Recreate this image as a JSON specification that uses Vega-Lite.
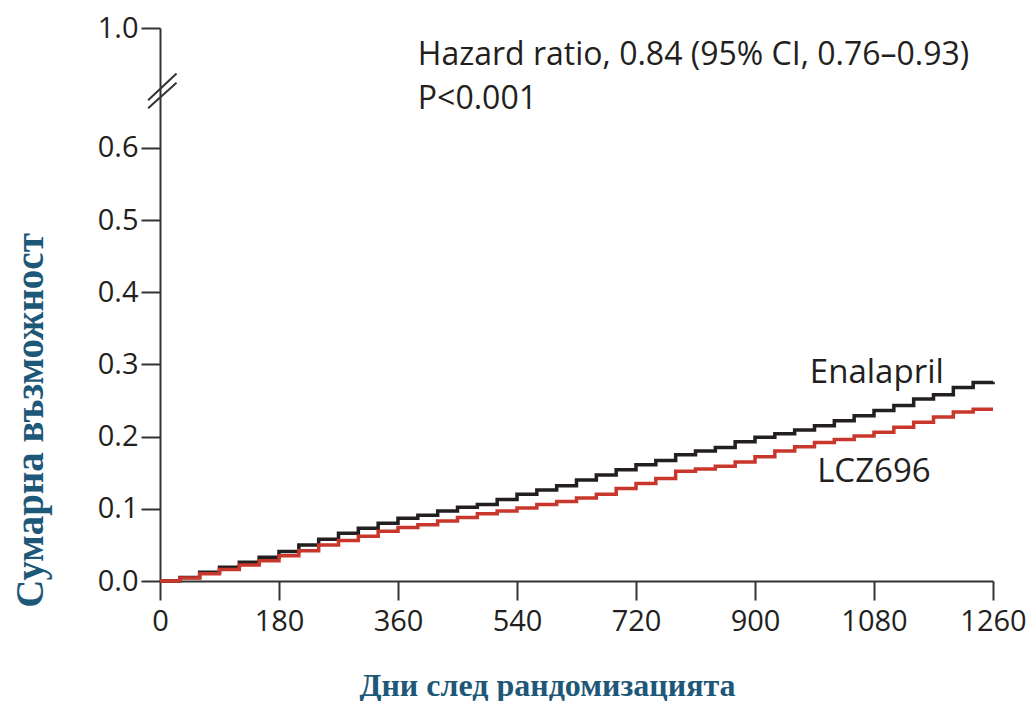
{
  "$schema": "https://vega.github.io/schema/vega-lite/v6.json",
  "autosize": "none",
  "width": 833,
  "height": 553,
  "padding": {"left": 160, "top": 28, "right": 40, "bottom": 120},
  "background": "white",
  "config": {"view": {"stroke": null}},
  "datasets": {
    "curves": [
      {"day": 0, "p": 0, "arm": "Enalapril"},
      {"day": 30, "p": 0.005, "arm": "Enalapril"},
      {"day": 60, "p": 0.012, "arm": "Enalapril"},
      {"day": 90, "p": 0.019, "arm": "Enalapril"},
      {"day": 120, "p": 0.026, "arm": "Enalapril"},
      {"day": 150, "p": 0.033, "arm": "Enalapril"},
      {"day": 180, "p": 0.041, "arm": "Enalapril"},
      {"day": 210, "p": 0.05, "arm": "Enalapril"},
      {"day": 240, "p": 0.058, "arm": "Enalapril"},
      {"day": 270, "p": 0.066, "arm": "Enalapril"},
      {"day": 300, "p": 0.073, "arm": "Enalapril"},
      {"day": 330, "p": 0.08, "arm": "Enalapril"},
      {"day": 360, "p": 0.087, "arm": "Enalapril"},
      {"day": 390, "p": 0.091, "arm": "Enalapril"},
      {"day": 420, "p": 0.097, "arm": "Enalapril"},
      {"day": 450, "p": 0.102, "arm": "Enalapril"},
      {"day": 480, "p": 0.106, "arm": "Enalapril"},
      {"day": 510, "p": 0.113, "arm": "Enalapril"},
      {"day": 540, "p": 0.12, "arm": "Enalapril"},
      {"day": 570, "p": 0.126, "arm": "Enalapril"},
      {"day": 600, "p": 0.132, "arm": "Enalapril"},
      {"day": 630, "p": 0.14, "arm": "Enalapril"},
      {"day": 660, "p": 0.147, "arm": "Enalapril"},
      {"day": 690, "p": 0.154, "arm": "Enalapril"},
      {"day": 720, "p": 0.161, "arm": "Enalapril"},
      {"day": 750, "p": 0.167, "arm": "Enalapril"},
      {"day": 780, "p": 0.175, "arm": "Enalapril"},
      {"day": 810, "p": 0.18, "arm": "Enalapril"},
      {"day": 840, "p": 0.185, "arm": "Enalapril"},
      {"day": 870, "p": 0.193, "arm": "Enalapril"},
      {"day": 900, "p": 0.199, "arm": "Enalapril"},
      {"day": 930, "p": 0.204, "arm": "Enalapril"},
      {"day": 960, "p": 0.209, "arm": "Enalapril"},
      {"day": 990, "p": 0.215, "arm": "Enalapril"},
      {"day": 1020, "p": 0.222, "arm": "Enalapril"},
      {"day": 1050, "p": 0.229, "arm": "Enalapril"},
      {"day": 1080, "p": 0.236, "arm": "Enalapril"},
      {"day": 1110, "p": 0.243, "arm": "Enalapril"},
      {"day": 1140, "p": 0.252, "arm": "Enalapril"},
      {"day": 1170, "p": 0.258, "arm": "Enalapril"},
      {"day": 1200, "p": 0.268, "arm": "Enalapril"},
      {"day": 1230, "p": 0.275, "arm": "Enalapril"},
      {"day": 1260, "p": 0.276, "arm": "Enalapril"},
      {"day": 0, "p": 0, "arm": "LCZ696"},
      {"day": 30, "p": 0.004, "arm": "LCZ696"},
      {"day": 60, "p": 0.01, "arm": "LCZ696"},
      {"day": 90, "p": 0.016, "arm": "LCZ696"},
      {"day": 120, "p": 0.022, "arm": "LCZ696"},
      {"day": 150, "p": 0.028, "arm": "LCZ696"},
      {"day": 180, "p": 0.035, "arm": "LCZ696"},
      {"day": 210, "p": 0.042, "arm": "LCZ696"},
      {"day": 240, "p": 0.05, "arm": "LCZ696"},
      {"day": 270, "p": 0.056, "arm": "LCZ696"},
      {"day": 300, "p": 0.062, "arm": "LCZ696"},
      {"day": 330, "p": 0.069, "arm": "LCZ696"},
      {"day": 360, "p": 0.074, "arm": "LCZ696"},
      {"day": 390, "p": 0.078, "arm": "LCZ696"},
      {"day": 420, "p": 0.083, "arm": "LCZ696"},
      {"day": 450, "p": 0.088, "arm": "LCZ696"},
      {"day": 480, "p": 0.093, "arm": "LCZ696"},
      {"day": 510, "p": 0.097, "arm": "LCZ696"},
      {"day": 540, "p": 0.101, "arm": "LCZ696"},
      {"day": 570, "p": 0.106, "arm": "LCZ696"},
      {"day": 600, "p": 0.11, "arm": "LCZ696"},
      {"day": 630, "p": 0.115, "arm": "LCZ696"},
      {"day": 660, "p": 0.12, "arm": "LCZ696"},
      {"day": 690, "p": 0.128, "arm": "LCZ696"},
      {"day": 720, "p": 0.135, "arm": "LCZ696"},
      {"day": 750, "p": 0.142, "arm": "LCZ696"},
      {"day": 780, "p": 0.152, "arm": "LCZ696"},
      {"day": 810, "p": 0.155, "arm": "LCZ696"},
      {"day": 840, "p": 0.159, "arm": "LCZ696"},
      {"day": 870, "p": 0.165, "arm": "LCZ696"},
      {"day": 900, "p": 0.172, "arm": "LCZ696"},
      {"day": 930, "p": 0.18, "arm": "LCZ696"},
      {"day": 960, "p": 0.186, "arm": "LCZ696"},
      {"day": 990, "p": 0.192, "arm": "LCZ696"},
      {"day": 1020, "p": 0.196, "arm": "LCZ696"},
      {"day": 1050, "p": 0.201, "arm": "LCZ696"},
      {"day": 1080, "p": 0.206, "arm": "LCZ696"},
      {"day": 1110, "p": 0.213, "arm": "LCZ696"},
      {"day": 1140, "p": 0.22, "arm": "LCZ696"},
      {"day": 1170, "p": 0.227, "arm": "LCZ696"},
      {"day": 1200, "p": 0.234, "arm": "LCZ696"},
      {"day": 1230, "p": 0.238, "arm": "LCZ696"},
      {"day": 1260, "p": 0.238, "arm": "LCZ696"}
    ],
    "notes": [
      {"day": 390, "p": 0.729, "label": "Hazard ratio, 0.84 (95% CI, 0.76–0.93)"},
      {"day": 390, "p": 0.668, "label": "P<0.001"}
    ],
    "labels": [
      {"day": 983, "p": 0.288, "label": "Enalapril"},
      {"day": 994, "p": 0.151, "label": "LCZ696"}
    ],
    "brk": [
      {"x1": -18, "x2": 25, "y1": 0.666, "y2": 0.703},
      {"x1": -18, "x2": 25, "y1": 0.655, "y2": 0.69}
    ]
  },
  "layer": [
    {
      "data": {"name": "curves"},
      "mark": {"type": "line", "interpolate": "step-after", "strokeWidth": 3.5},
      "encoding": {
        "x": {
          "field": "day", "type": "quantitative",
          "scale": {"domain": [0, 1260], "nice": false, "zero": false},
          "axis": {
            "values": [0, 180, 360, 540, 720, 900, 1080, 1260],
            "format": "d",
            "grid": false,
            "domainColor": "#333333", "domainWidth": 2,
            "tickColor": "#333333", "tickWidth": 2, "tickSize": 19,
            "labelFont": "Open Sans", "labelFontSize": 29, "labelColor": "#231F20",
            "labelPadding": 7, "labelFlush": false,
            "title": "Дни след рандомизацията",
            "titleFont": "Liberation Serif", "titleFontSize": 32, "titleFontWeight": "bold",
            "titleColor": "#1E5878", "titlePadding": 34,
            "titleX": 387, "titleAlign": "center"
          }
        },
        "y": {
          "field": "p", "type": "quantitative",
          "scale": {"domain": [0, 0.766], "nice": false},
          "axis": {
            "values": [0, 0.1, 0.2, 0.3, 0.4, 0.5, 0.6, 0.766],
            "labelExpr": "datum.value > 0.7 ? '1.0' : format(datum.value, '.1f')",
            "grid": false,
            "domainColor": "#333333", "domainWidth": 2,
            "tickColor": "#333333", "tickWidth": 2, "tickSize": 19,
            "labelFont": "Open Sans", "labelFontSize": 29, "labelColor": "#231F20",
            "labelPadding": 3, "labelFlush": false,
            "title": "Сумарна възможност",
            "titleFont": "Liberation Serif", "titleFontSize": 39, "titleFontWeight": "bold",
            "titleColor": "#1E5878",
            "titleAngle": -90, "titleAlign": "center", "titleBaseline": "middle",
            "titleX": -130, "titleY": 392
          }
        },
        "color": {
          "field": "arm", "type": "nominal",
          "scale": {"domain": ["Enalapril", "LCZ696"], "range": ["#231F20", "#C9372C"]},
          "legend": null
        }
      }
    },
    {
      "data": {"name": "notes"},
      "mark": {"type": "text", "align": "left", "baseline": "middle", "font": "Open Sans", "fontSize": 32, "color": "#231F20"},
      "encoding": {
        "x": {"field": "day", "type": "quantitative"},
        "y": {"field": "p", "type": "quantitative"},
        "text": {"field": "label"}
      }
    },
    {
      "data": {"name": "labels"},
      "mark": {"type": "text", "align": "left", "baseline": "middle", "font": "Open Sans", "fontSize": 33, "color": "#231F20"},
      "encoding": {
        "x": {"field": "day", "type": "quantitative"},
        "y": {"field": "p", "type": "quantitative"},
        "text": {"field": "label"}
      }
    },
    {
      "data": {"name": "brk"},
      "mark": {"type": "rule", "strokeWidth": 2, "color": "#333333"},
      "encoding": {
        "x": {"field": "x1", "type": "quantitative"},
        "x2": {"field": "x2"},
        "y": {"field": "y1", "type": "quantitative"},
        "y2": {"field": "y2"}
      }
    }
  ]
}
